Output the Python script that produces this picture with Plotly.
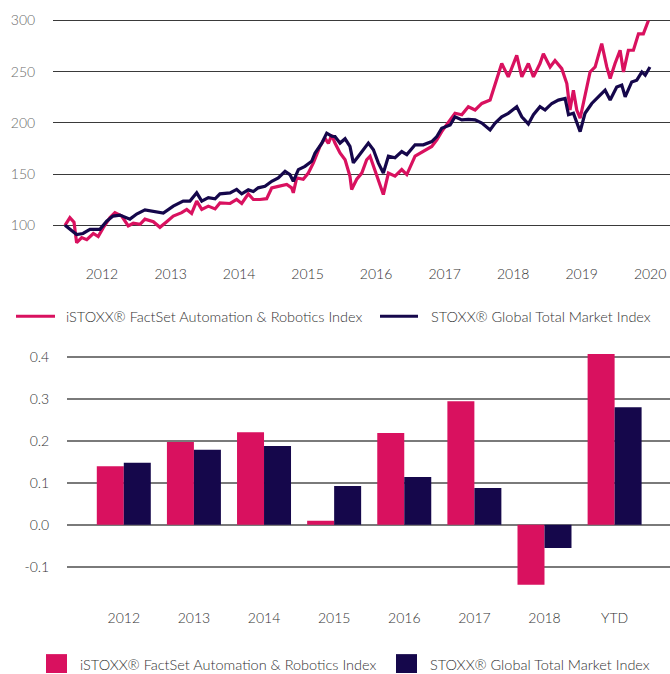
import plotly.graph_objects as go

# ---------------- data ----------------
robotics_name = "iSTOXX® FactSet Automation & Robotics Index"
global_name = "STOXX® Global Total Market Index"

robotics_dates = [
    "2011-06-18", "2011-07-14", "2011-08-05", "2011-08-19", "2011-09-15", "2011-10-12",
    "2011-11-16", "2011-12-12", "2012-01-08", "2012-02-13", "2012-03-10", "2012-04-15",
    "2012-05-20", "2012-06-16", "2012-07-22", "2012-08-17", "2012-10-01", "2012-11-05",
    "2012-12-11", "2013-01-15", "2013-03-01", "2013-03-28", "2013-04-23", "2013-05-20",
    "2013-06-16", "2013-07-21", "2013-08-26", "2013-09-21", "2013-11-14", "2013-12-19",
    "2014-01-15", "2014-02-19", "2014-03-18", "2014-04-22", "2014-05-28", "2014-06-24",
    "2014-07-29", "2014-09-12", "2014-10-08", "2014-10-17", "2014-11-04", "2014-12-09",
    "2015-01-05", "2015-02-01", "2015-03-08", "2015-04-04", "2015-04-22", "2015-05-10",
    "2015-05-27", "2015-06-23", "2015-07-20", "2015-08-15", "2015-08-24", "2015-09-20",
    "2015-10-17", "2015-11-12", "2015-11-30", "2015-12-18", "2016-01-13", "2016-02-09",
    "2016-03-07", "2016-04-11", "2016-05-17", "2016-06-13", "2016-07-27", "2016-09-09",
    "2016-10-24", "2016-11-20", "2016-12-16", "2017-01-30", "2017-02-25", "2017-04-02",
    "2017-05-07", "2017-06-12", "2017-07-18", "2017-08-31", "2017-09-27", "2017-11-01",
    "2017-12-06", "2018-01-20", "2018-02-16", "2018-03-23", "2018-04-19", "2018-05-24",
    "2018-06-11", "2018-07-17", "2018-08-12", "2018-09-17", "2018-10-14", "2018-10-31",
    "2018-11-18", "2018-12-06", "2018-12-24", "2019-01-19", "2019-02-15", "2019-03-14",
    "2019-04-18", "2019-05-15", "2019-06-02", "2019-06-28", "2019-07-25", "2019-08-12",
    "2019-09-07", "2019-10-04", "2019-10-31", "2019-11-26", "2019-12-23",
]
robotics_values = [
    100, 107.5, 103, 83, 88, 86,
    92, 89, 97.7, 107.5, 112.3, 109,
    99.3, 102, 101, 106, 103.5, 98,
    103.5, 109, 112.3, 115.5, 111.6, 123.6,
    115.5, 118.7, 116, 121.9, 121.3, 125.2,
    121.3, 130.7, 125.2, 125.2, 126, 136.6,
    138, 139.8, 136.6, 131.7, 146.3, 145,
    151, 160.9, 177, 185, 180, 188,
    180.3, 170.6, 164, 147.9, 135, 145,
    151, 164, 167.5, 157.6, 145, 130,
    151, 148, 154.4, 149.5, 167.5, 172.3,
    177, 183.5, 191.5, 203, 209.4, 208,
    215.8, 212.6, 219, 222.3, 238.5, 258,
    245, 266, 245, 258, 245, 258,
    267.6, 254.7, 261, 253, 238.5, 212.6,
    232, 212.6, 204.6, 228, 249.8, 254.7,
    277.4, 254.7, 243.4, 258, 271, 249.8,
    271, 271, 287, 287, 300,
]

global_dates = [
    "2011-06-18", "2011-08-19", "2011-09-22", "2011-10-29", "2011-12-21", "2012-01-26",
    "2012-02-29", "2012-04-06", "2012-05-29", "2012-07-04", "2012-08-17", "2012-10-19",
    "2012-11-23", "2013-01-15", "2013-03-09", "2013-04-14", "2013-05-20", "2013-06-16",
    "2013-07-21", "2013-08-26", "2013-09-21", "2013-11-14", "2013-12-19", "2014-01-15",
    "2014-02-19", "2014-03-18", "2014-04-13", "2014-05-19", "2014-06-24", "2014-07-29",
    "2014-09-03", "2014-09-29", "2014-10-17", "2014-11-13", "2014-12-18", "2015-01-23",
    "2015-02-10", "2015-03-17", "2015-04-13", "2015-05-10", "2015-05-27", "2015-06-23",
    "2015-07-20", "2015-08-15", "2015-09-02", "2015-09-29", "2015-10-25", "2015-11-21",
    "2015-12-18", "2016-01-13", "2016-02-09", "2016-03-07", "2016-04-11", "2016-05-17",
    "2016-06-13", "2016-07-27", "2016-09-09", "2016-10-24", "2016-11-20", "2016-12-16",
    "2017-01-30", "2017-02-25", "2017-04-02", "2017-05-07", "2017-06-12", "2017-07-18",
    "2017-08-31", "2017-09-27", "2017-11-01", "2017-12-06", "2018-01-20", "2018-02-16",
    "2018-03-23", "2018-04-19", "2018-05-24", "2018-06-20", "2018-07-26", "2018-08-30",
    "2018-10-05", "2018-10-23", "2018-11-18", "2018-12-24", "2019-01-19", "2019-02-24",
    "2019-03-31", "2019-05-06", "2019-06-02", "2019-07-07", "2019-08-03", "2019-08-21",
    "2019-09-25", "2019-10-22", "2019-11-18", "2019-12-06", "2019-12-31",
]
global_values = [
    100, 91, 92, 96, 96, 104,
    109, 110, 106, 111, 115, 113,
    112, 118.7, 123.6, 123.6, 131.7, 123.6,
    127, 125.8, 130.7, 131.7, 135, 130.7,
    134.6, 133, 136.6, 138, 143, 146.3,
    152.7, 149.5, 143, 154.4, 157.6, 162.5,
    170.6, 180, 190, 187, 186.7, 180.3,
    184.5, 177, 161, 167.5, 173.8, 180.3,
    173.8, 161, 151, 167.5, 166, 172,
    169, 178.6, 178.6, 181.8, 186.7, 194.8,
    198, 206, 203, 203.5, 203, 199.8,
    193.2, 199.8, 206, 209.4, 215.8, 206,
    199, 208, 215.8, 212.6, 219, 222.3,
    224, 208, 209.4, 191.5, 209.4, 219,
    225.5, 232, 222.3, 235, 237, 225.5,
    240, 241.8, 249.8, 246.6, 254.7,
]

year_ticks = ["2012-01-01", "2013-01-01", "2014-01-01", "2015-01-01", "2016-01-01",
              "2017-01-01", "2018-01-01", "2019-01-01", "2020-01-01"]
year_labels = ["2012", "2013", "2014", "2015", "2016", "2017", "2018", "2019", "2020"]
line_yticks = [100, 150, 200, 250, 300]

bar_categories = ["2012", "2013", "2014", "2015", "2016", "2017", "2018", "YTD"]
robotics_returns = [0.140, 0.198, 0.221, 0.010, 0.219, 0.295, -0.143, 0.408]
global_returns = [0.148, 0.179, 0.188, 0.093, 0.114, 0.088, -0.055, 0.281]
bar_yticks = [-0.1, 0.0, 0.1, 0.2, 0.3, 0.4]
bar_yticklabels = ["-0.1", "0.0", "0.1", "0.2", "0.3", "0.4"]

# ---------------- style ----------------
W, H = 670, 674
PINK = "#D9115F"
NAVY = "#15074B"
FONT = "Lato Light, Lato"
TXT = "#333333"
LEG_SIZE = 14.5


def px_x(p):
    return p / W


def px_y(p):
    return 1 - p / H


fig = go.Figure()

fig.add_trace(go.Scatter(x=robotics_dates, y=robotics_values, mode="lines",
                         line=dict(color=PINK, width=3.2), name=robotics_name,
                         xaxis="x", yaxis="y", showlegend=False))
fig.add_trace(go.Scatter(x=global_dates, y=global_values, mode="lines",
                         line=dict(color=NAVY, width=3.2), name=global_name,
                         xaxis="x", yaxis="y", showlegend=False))

fig.add_trace(go.Bar(x=bar_categories, y=robotics_returns, marker=dict(color=PINK, line=dict(width=0)),
                     name=robotics_name, xaxis="x2", yaxis="y2", showlegend=False))
fig.add_trace(go.Bar(x=bar_categories, y=global_returns, marker=dict(color=NAVY, line=dict(width=0)),
                     name=global_name, xaxis="x2", yaxis="y2", showlegend=False))

# manual legends
shapes = [
    dict(type="line", xref="paper", yref="paper", x0=px_x(16), x1=px_x(55), y0=px_y(314), y1=px_y(314),
         line=dict(color=PINK, width=3)),
    dict(type="line", xref="paper", yref="paper", x0=px_x(380), x1=px_x(418), y0=px_y(314), y1=px_y(314),
         line=dict(color=NAVY, width=3)),
    dict(type="rect", xref="paper", yref="paper", x0=px_x(46), x1=px_x(67), y0=px_y(673), y1=px_y(654),
         fillcolor=PINK, line=dict(width=0)),
    dict(type="rect", xref="paper", yref="paper", x0=px_x(396), x1=px_x(417), y0=px_y(673), y1=px_y(654),
         fillcolor=NAVY, line=dict(width=0)),
]
annotations = [
    dict(text=robotics_name, xref="paper", yref="paper", x=px_x(64), y=px_y(314), xanchor="left",
         yanchor="middle", showarrow=False, font=dict(family=FONT, size=LEG_SIZE, color=TXT)),
    dict(text=global_name, xref="paper", yref="paper", x=px_x(429), y=px_y(314), xanchor="left",
         yanchor="middle", showarrow=False, font=dict(family=FONT, size=LEG_SIZE, color=TXT)),
    dict(text=robotics_name, xref="paper", yref="paper", x=px_x(78), y=px_y(664), xanchor="left",
         yanchor="middle", showarrow=False, font=dict(family=FONT, size=LEG_SIZE, color=TXT)),
    dict(text=global_name, xref="paper", yref="paper", x=px_x(428), y=px_y(664), xanchor="left",
         yanchor="middle", showarrow=False, font=dict(family=FONT, size=LEG_SIZE, color=TXT)),
]

fig.update_layout(
    width=W, height=H,
    margin=dict(l=0, r=0, t=0, b=0),
    paper_bgcolor="white", plot_bgcolor="white",
    font=dict(family=FONT, size=14, color=TXT),
    barmode="group", bargap=0.23, bargroupgap=0,
    shapes=shapes, annotations=annotations,
    xaxis=dict(type="date", domain=[px_x(53), 1], anchor="y",
               range=["2011-04-15", "2020-04-16"],
               tickmode="array", tickvals=year_ticks, ticktext=year_labels,
               showgrid=False, zeroline=False, showline=False,
               ticks="outside", ticklen=5, tickcolor="rgba(0,0,0,0)",
               tickfont=dict(family=FONT, size=14, color=TXT)),
    yaxis=dict(domain=[px_y(253.5), px_y(11.5)], anchor="x", range=[70, 305],
               tickmode="array", tickvals=line_yticks,
               showgrid=True, gridcolor="#3a3a3a", gridwidth=1.2, zeroline=False, showline=False,
               ticks="outside", ticklen=14, tickcolor="rgba(0,0,0,0)",
               tickfont=dict(family=FONT, size=14, color="#6b6b6b")),
    xaxis2=dict(type="category", domain=[px_x(67), 1], anchor="y2",
                range=[-0.81, 7.79], showgrid=False, zeroline=False, showline=False,
                ticks="outside", ticklen=1, tickcolor="rgba(0,0,0,0)",
                tickfont=dict(family=FONT, size=14, color=TXT)),
    yaxis2=dict(domain=[px_y(604), px_y(347)], anchor="x2", range=[-0.19, 0.42],
                tickmode="array", tickvals=bar_yticks, ticktext=bar_yticklabels,
                showgrid=True, gridcolor="#7a7a7a", gridwidth=1.6, zeroline=False, showline=False,
                ticks="outside", ticklen=14, tickcolor="rgba(0,0,0,0)",
                tickfont=dict(family=FONT, size=14, color=TXT)),
)

fig.write_html(
    "out.html",
    config={"displayModeBar": False},
    post_script="document.body.style.margin='0';document.body.style.padding='0';"
                "document.body.style.overflow='hidden';",
)
